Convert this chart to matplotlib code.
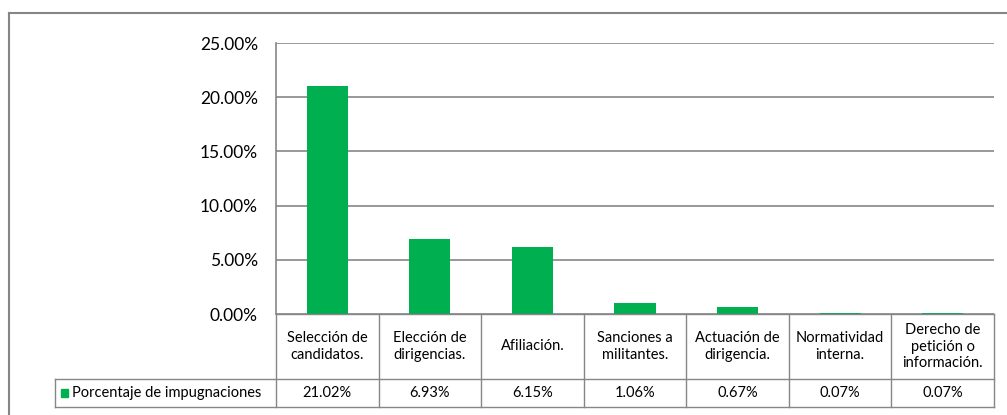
import matplotlib.pyplot as plt
from matplotlib.patches import Rectangle
from matplotlib.lines import Line2D
from matplotlib.ticker import FuncFormatter

# datos
categorias = ['Selección de\ncandidatos.', 'Elección de\ndirigencias.', 'Afiliación.',
              'Sanciones a\nmilitantes.', 'Actuación de\ndirigencia.', 'Normatividad\ninterna.',
              'Derecho de\npetición o\ninformación.']
porcentajes = [21.02, 6.93, 6.15, 1.06, 0.67, 0.07, 0.07]
serie = 'Porcentaje de impugnaciones'

verde = '#00B050'
gris = '#868686'
plt.rcParams['font.family'] = ['Lato', 'DejaVu Sans']

W, H = 1007, 415
fig = plt.figure(figsize=(W / 100, H / 100), dpi=100)

def px(x0, y0, x1, y1):
    return [x0 / W, 1 - y1 / H, (x1 - x0) / W, (y1 - y0) / H]

# borde exterior del grafico
fig.add_artist(Line2D([9 / W, 9 / W], [0, 1 - 13 / H], color=gris, lw=1.5))
fig.add_artist(Line2D([9 / W, 1], [1 - 13 / H, 1 - 13 / H], color=gris, lw=1.5))

# area del grafico
ax = fig.add_axes(px(276, 43, 994, 314))
n = len(categorias)
ax.bar(range(n), porcentajes, width=0.4, color=verde, zorder=3)
ax.set_xlim(-0.5, n - 0.5)
ax.set_ylim(0, 25)
ax.set_yticks([0, 5, 10, 15, 20, 25])
ax.yaxis.set_major_formatter(FuncFormatter(lambda v, p: f'{v:.2f}%'))
ax.tick_params(axis='y', length=0, pad=13, labelsize=12.5, colors='black')
ax.set_xticks([])
ax.grid(axis='y', color=gris, lw=1.2, zorder=0)
for s in ['top', 'right', 'bottom']:
    ax.spines[s].set_visible(False)
ax.spines['left'].set_color(gris)
ax.spines['left'].set_linewidth(1.2)

# tabla de datos
ancho_col = (994 - 276) / n
ancho_leyenda = (276 - 55) / ancho_col
tab = fig.add_axes(px(55, 314, 994, 407))
tab.set_xlim(-0.5 - ancho_leyenda, n - 0.5)
tab.set_ylim(0, 93)
tab.axis('off')
y_fila = 28
lk = dict(color=gris, lw=1.0, clip_on=False)
tab.plot([-0.5, n - 0.5], [93, 93], **lk)
tab.plot([-0.5 - ancho_leyenda, n - 0.5], [y_fila, y_fila], **lk)
tab.plot([-0.5 - ancho_leyenda, n - 0.5], [0, 0], **lk)
tab.plot([-0.5 - ancho_leyenda] * 2, [0, y_fila], **lk)
for i in range(n + 1):
    tab.plot([i - 0.5, i - 0.5], [0, 93], **lk)
for i, (c, v) in enumerate(zip(categorias, porcentajes)):
    tab.text(i, (93 + y_fila) / 2, c, ha='center', va='center', fontsize=10.5, linespacing=1.25)
    tab.text(i, y_fila / 2, f'{v:.2f}%', ha='center', va='center', fontsize=10.5)
tab.add_patch(Rectangle((-0.5 - ancho_leyenda + 0.06, y_fila / 2 - 4), 0.07, 8,
                        color=verde, clip_on=False))
tab.text(-0.5 - ancho_leyenda + 0.17, y_fila / 2, serie, ha='left', va='center', fontsize=10.5)

fig.savefig('out.png', dpi=100)
